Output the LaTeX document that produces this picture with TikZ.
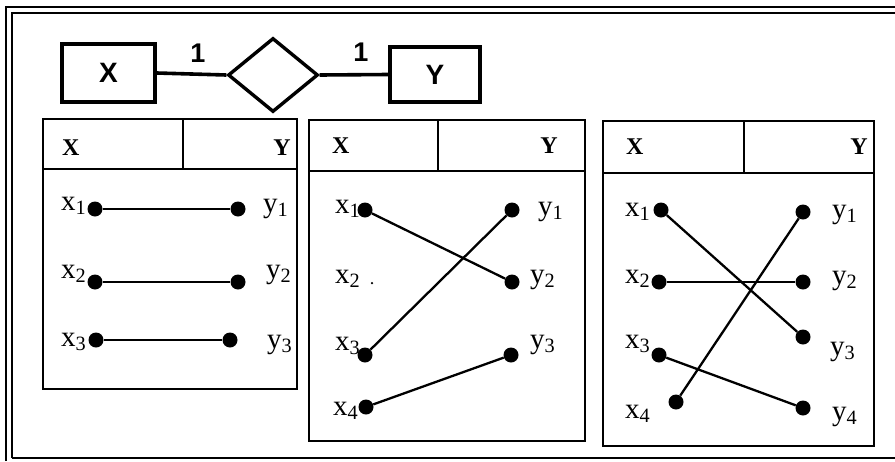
\documentclass[tikz,border=0pt]{standalone}
\usepackage{fontspec}
\setmainfont{Liberation Serif}
\newfontfamily\ersans{Liberation Sans}
\usetikzlibrary{positioning, shapes.geometric}

\begin{document}
\begin{tikzpicture}[
    x=1pt, y=-1pt,
    frame/.style={line width=2pt},
    entity/.style={draw, line width=3.4pt, font=\ersans\bfseries\fontsize{28}{28}\selectfont},
    relation/.style={diamond, draw, line width=3.4pt, minimum width=90pt, minimum height=74pt, inner sep=0pt},
    card/.style={font=\ersans\bfseries\fontsize{27}{27}\selectfont, inner sep=0pt},
    panel/.style={line width=2.4pt},
    head/.style={font=\bfseries\fontsize{24}{24}\selectfont, inner sep=0pt},
    elem/.style={font=\fontsize{29}{29}\selectfont, inner sep=0pt},
    dot/.style={circle, fill, inner sep=0pt, minimum size=15pt},
    link/.style={line width=2.3pt}
]
    \useasboundingbox (0,0) rectangle (895,461);

    % outer frame
    \draw[frame] (6,461) -- (6,7) -- (895,7);
    \draw[frame] (12,458) -- (12,13) -- (895,13);
    \draw[frame] (12,458) -- (895,458);

    % ER diagram on top
    \node[entity, minimum width=93pt, minimum height=58pt] (ex) at (108.5,73) {X};
    \node[relation] (rel) at (273,75) {};
    \node[entity, minimum width=90pt, minimum height=55pt] (ey) at (435,74.5) {Y};
    \draw[line width=3.6pt] (ex.east) -- (rel.west);
    \draw[line width=3.6pt] (rel.east) -- (ey.west);
    \node[card] (cx) at (198,53) {1};
    \node[card] (cy) at (361,52) {1};

    % panel 1
    \draw[panel] (43,119) rectangle (297,389);
    \draw[panel] (43,169) -- (297,169);
    \draw[panel] (183,119) -- (183,169);
    \node[head, anchor=base west] (h1x) at (62,155) {X};
    \node[head, anchor=base east] (h1y) at (291,155) {Y};

    \node[elem, anchor=base west] (p1x1) at (61,210) {x\textsubscript{1}};
    \node[elem, anchor=base west] (p1x2) at (61,278) {x\textsubscript{2}};
    \node[elem, anchor=base west] (p1x3) at (61,346) {x\textsubscript{3}};
    \node[elem, anchor=base west] (p1y1) at (263,212) {y\textsubscript{1}};
    \node[elem, anchor=base west] (p1y2) at (266,278) {y\textsubscript{2}};
    \node[elem, anchor=base west] (p1y3) at (267,348) {y\textsubscript{3}};
    \node[dot] (p1a1) at (95,209) {};
    \node[dot] (p1a2) at (95,282) {};
    \node[dot] (p1a3) at (96,340) {};
    \node[dot] (p1b1) at (238,209) {};
    \node[dot] (p1b2) at (238,282) {};
    \node[dot] (p1b3) at (230,340) {};
    \draw[link] (p1a1) -- (p1b1);
    \draw[link] (p1a2) -- (p1b2);
    \draw[link] (p1a3) -- (p1b3);

    % panel 2
    \draw[panel] (309,120) rectangle (585,441);
    \draw[panel] (309,171) -- (585,171);
    \draw[panel] (438,120) -- (438,171);
    \node[head, anchor=base west] (h2x) at (332,153) {X};
    \node[head, anchor=base east] (h2y) at (558,153) {Y};

    \node[elem, anchor=base west] (p2x1) at (335,213) {x\textsubscript{1}};
    \node[elem, anchor=base west] (p2x2) at (335,283) {x\textsubscript{2}};
    \node[elem, anchor=base west] (p2x3) at (335,350) {x\textsubscript{3}};
    \node[elem, anchor=base west] (p2x4) at (333,415) {x\textsubscript{4}};
    \node[elem, anchor=base west] (p2y1) at (538,215) {y\textsubscript{1}};
    \node[elem, anchor=base west] (p2y2) at (530,283) {y\textsubscript{2}};
    \node[elem, anchor=base west] (p2y3) at (530,348) {y\textsubscript{3}};
    \node[dot] (p2a1) at (365,210) {};
    \node[dot, minimum size=2.5pt] (p2a2) at (372,283) {};
    \node[dot] (p2a3) at (365,355) {};
    \node[dot] (p2a4) at (366,407) {};
    \node[dot] (p2b1) at (512,210) {};
    \node[dot] (p2b2) at (512,282) {};
    \node[dot] (p2b3) at (511,355) {};
    \draw[link] (p2a1) -- (p2b2);
    \draw[link] (p2a3) -- (p2b1);
    \draw[link] (p2a4) -- (p2b3);

    % panel 3
    \draw[panel] (603,121) rectangle (874,446);
    \draw[panel] (603,173) -- (874,173);
    \draw[panel] (744,121) -- (744,173);
    \node[head, anchor=base west] (h3x) at (626,154) {X};
    \node[head, anchor=base east] (h3y) at (868,154) {Y};

    \node[elem, anchor=base west] (p3x1) at (625,216) {x\textsubscript{1}};
    \node[elem, anchor=base west] (p3x2) at (625,283) {x\textsubscript{2}};
    \node[elem, anchor=base west] (p3x3) at (625,348) {x\textsubscript{3}};
    \node[elem, anchor=base west] (p3x4) at (625,418) {x\textsubscript{4}};
    \node[elem, anchor=base west] (p3y1) at (832,218) {y\textsubscript{1}};
    \node[elem, anchor=base west] (p3y2) at (832,284) {y\textsubscript{2}};
    \node[elem, anchor=base west] (p3y3) at (830,355) {y\textsubscript{3}};
    \node[elem, anchor=base west] (p3y4) at (832,420) {y\textsubscript{4}};
    \node[dot] (p3a1) at (661,210) {};
    \node[dot] (p3a2) at (659,282) {};
    \node[dot] (p3a3) at (659,355) {};
    \node[dot] (p3a4) at (676,402) {};
    \node[dot] (p3b1) at (803,212) {};
    \node[dot] (p3b2) at (803,282) {};
    \node[dot] (p3b3) at (803,337) {};
    \node[dot] (p3b4) at (803,408) {};
    \draw[link] (p3a1) -- (p3b3);
    \draw[link] (p3a2) -- (p3b2);
    \draw[link] (p3a3) -- (p3b4);
    \draw[link] (p3a4) -- (p3b1);
\end{tikzpicture}
\end{document}
